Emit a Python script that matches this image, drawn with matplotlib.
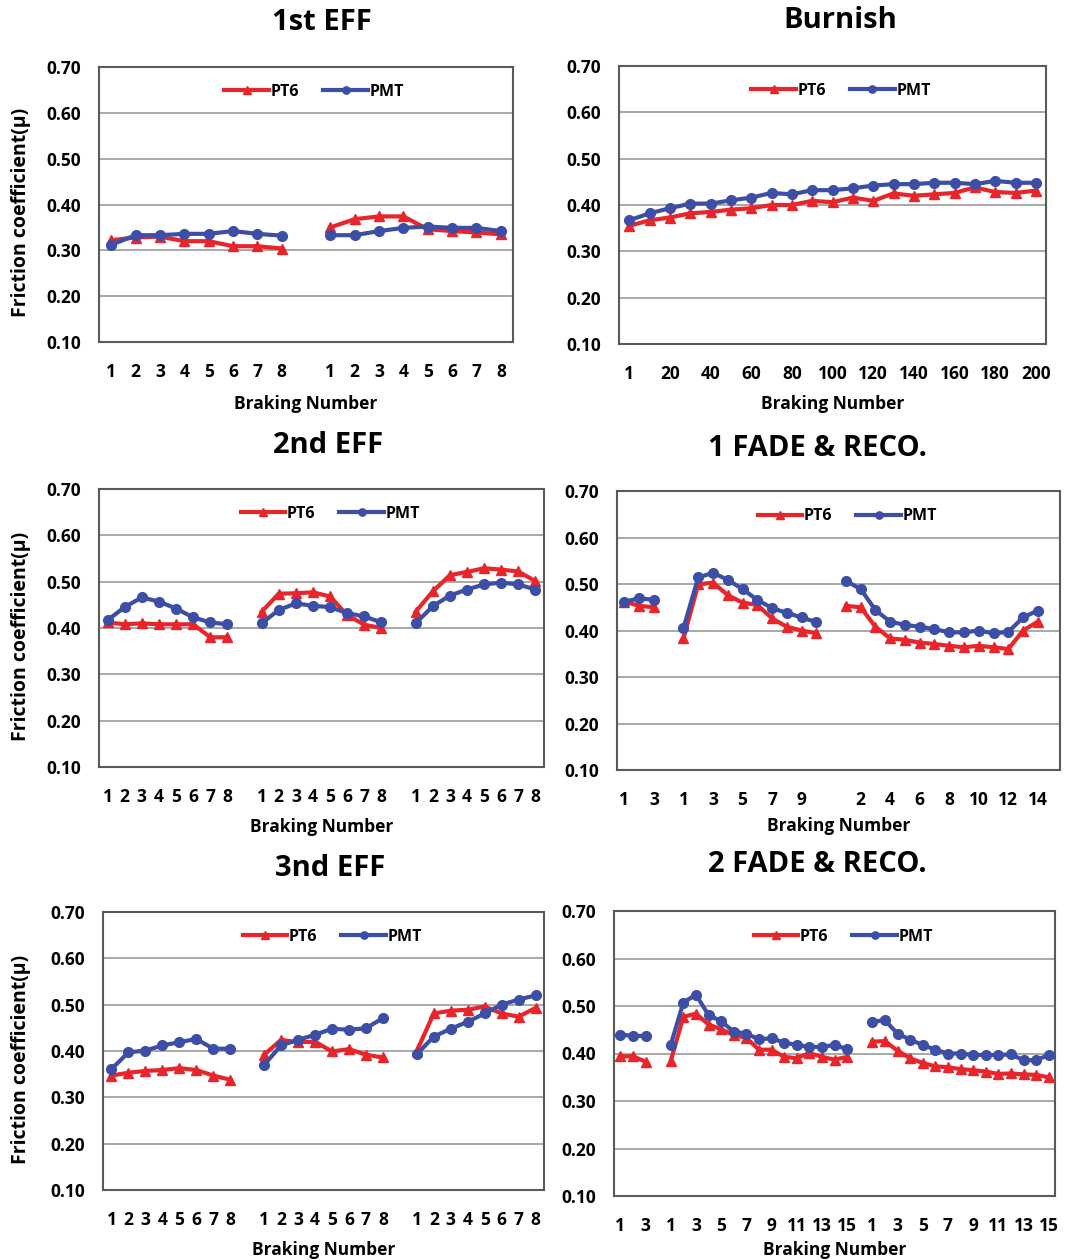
import numpy as np
import matplotlib
matplotlib.use('Agg')
from matplotlib import pyplot as plt

plt.rcParams['font.family'] = ['Open Sans', 'DejaVu Sans']
plt.rcParams['font.weight'] = 'bold'

# ---- data (friction coefficient) ----
eff_cats = [str(i) for i in range(1, 9)]

# 1st EFF: two runs of 8 brakings
eff1_pt6 = [[0.322, 0.328, 0.330, 0.320, 0.320, 0.309, 0.309, 0.304],
            [0.350, 0.368, 0.374, 0.374, 0.346, 0.342, 0.339, 0.335]]
eff1_pmt = [[0.312, 0.333, 0.333, 0.336, 0.336, 0.342, 0.336, 0.332],
            [0.333, 0.333, 0.342, 0.349, 0.352, 0.349, 0.349, 0.342]]

# Burnish: every 10th braking
burnish_cats = ['1'] + [str(i) for i in range(10, 201, 10)]
burnish_pt6 = [0.355, 0.367, 0.373, 0.382, 0.385, 0.390, 0.393, 0.400, 0.400, 0.409,
               0.406, 0.416, 0.409, 0.425, 0.420, 0.423, 0.426, 0.438, 0.428, 0.426, 0.431]
burnish_pmt = [0.367, 0.382, 0.393, 0.403, 0.403, 0.410, 0.416, 0.426, 0.423, 0.432,
               0.432, 0.436, 0.442, 0.445, 0.445, 0.448, 0.448, 0.445, 0.452, 0.448, 0.448]

# 2nd EFF: three runs of 8
eff2_pt6 = [[0.412, 0.408, 0.410, 0.408, 0.408, 0.408, 0.380, 0.380],
            [0.435, 0.474, 0.475, 0.477, 0.468, 0.428, 0.407, 0.400],
            [0.435, 0.479, 0.514, 0.521, 0.529, 0.526, 0.522, 0.501]]
eff2_pmt = [[0.417, 0.445, 0.466, 0.457, 0.442, 0.423, 0.412, 0.408],
            [0.410, 0.439, 0.453, 0.448, 0.445, 0.432, 0.425, 0.412],
            [0.410, 0.447, 0.470, 0.483, 0.494, 0.498, 0.494, 0.483]]

# 1 FADE & RECO.: baseline 3, fade 10, recovery 14
fade1_cats = [['1', '2', '3'],
              [str(i) for i in range(1, 11)],
              [str(i) for i in range(1, 15)]]
fade1_pt6 = [[0.462, 0.453, 0.450],
             [0.383, 0.499, 0.503, 0.476, 0.460, 0.455, 0.426, 0.408, 0.400, 0.394],
             [0.453, 0.450, 0.408, 0.383, 0.380, 0.374, 0.371, 0.367, 0.364, 0.367,
              0.364, 0.360, 0.400, 0.419]]
fade1_pmt = [[0.462, 0.469, 0.466],
             [0.405, 0.514, 0.524, 0.509, 0.489, 0.466, 0.448, 0.438, 0.428, 0.418],
             [0.507, 0.489, 0.444, 0.419, 0.412, 0.408, 0.403, 0.396, 0.396, 0.400,
              0.394, 0.397, 0.428, 0.443]]

# 3nd EFF: three runs of 8
eff3_pt6 = [[0.347, 0.353, 0.357, 0.359, 0.363, 0.359, 0.347, 0.338],
            [0.392, 0.424, 0.419, 0.420, 0.399, 0.404, 0.392, 0.386],
            [0.400, 0.481, 0.487, 0.489, 0.496, 0.481, 0.474, 0.493]]
eff3_pmt = [[0.361, 0.397, 0.401, 0.412, 0.419, 0.426, 0.405, 0.405],
            [0.370, 0.412, 0.424, 0.435, 0.448, 0.446, 0.449, 0.471],
            [0.393, 0.431, 0.448, 0.463, 0.481, 0.500, 0.511, 0.520]]

# 2 FADE & RECO.: baseline 3, fade 15, recovery 15
fade2_cats = [['1', '2', '3'],
              [str(i) for i in range(1, 16)],
              [str(i) for i in range(1, 16)]]
fade2_pt6 = [[0.394, 0.394, 0.383],
             [0.384, 0.477, 0.484, 0.461, 0.451, 0.439, 0.433, 0.408, 0.408, 0.393,
              0.390, 0.401, 0.393, 0.387, 0.393],
             [0.425, 0.426, 0.406, 0.390, 0.380, 0.373, 0.371, 0.367, 0.365, 0.362,
              0.357, 0.358, 0.356, 0.355, 0.350]]
fade2_pmt = [[0.440, 0.437, 0.437],
             [0.418, 0.507, 0.524, 0.481, 0.468, 0.446, 0.442, 0.430, 0.432, 0.423,
              0.418, 0.414, 0.414, 0.418, 0.409],
             [0.467, 0.470, 0.442, 0.429, 0.418, 0.408, 0.400, 0.400, 0.397, 0.397,
              0.397, 0.398, 0.386, 0.386, 0.397]]

RED = '#e8252b'
BLUE = '#3c4ea5'


def draw(ax, pt6_groups, pmt_groups, cat_groups, label_every=1, extra_slots=0):
    """plot groups side by side on a category axis, one empty slot between groups"""
    pos = 0
    labels = []
    for k, (a, b, c) in enumerate(zip(pt6_groups, pmt_groups, cat_groups)):
        xs = np.arange(pos, pos + len(a))
        ax.plot(xs, a, color=RED, lw=3, marker='^', ms=7,
                label='PT6' if k == 0 else None, zorder=3)
        ax.plot(xs, b, color=BLUE, lw=3, marker='o', ms=7,
                label='PMT' if k == 0 else None, zorder=3)
        labels += list(c) + ['']
        pos += len(a) + 1
    labels = labels[:-1]
    n = len(labels) + extra_slots
    shown = [lab if i % label_every == 0 else '' for i, lab in enumerate(labels)]
    ax.set_xticks(np.arange(len(labels)))
    ax.set_xticklabels(shown)
    ax.set_xlim(-0.5, n - 0.5)
    ax.set_ylim(0.10, 0.70)
    ax.set_yticks(np.arange(0.1, 0.71, 0.1))
    ax.set_yticklabels(['%.2f' % v for v in np.arange(0.1, 0.71, 0.1)])
    ax.yaxis.grid(True, color='#a8a8a8', lw=1.4)
    ax.set_axisbelow(True)
    ax.tick_params(length=0, labelsize=12.5, pad=15)
    ax.tick_params(axis='y', pad=13)
    for s in ax.spines.values():
        s.set_color('#5a5a5a')
        s.set_linewidth(1.5)
    ax.legend(loc='center', bbox_to_anchor=(0.52, 0.91), ncol=2, frameon=False,
              fontsize=11.5, handlelength=2.8, columnspacing=1.5, handletextpad=0.1,
              markerscale=0.75)


W, H = 1068, 1260
fig = plt.figure(figsize=(W / 100, H / 100), dpi=100)


def box(x0, y0, x1, y1):
    return fig.add_axes([x0 / W, 1 - y1 / H, (x1 - x0) / W, (y1 - y0) / H])


# title, axes box (pixels), title centre, x-label centre (axes fraction)
panels = [
    ('1st EFF', box(99, 67, 513, 342), (322, 22), -0.225),
    ('Burnish', box(619, 66, 1046, 344), (840, 20), -0.215),
    ('2nd EFF', box(99, 489, 544, 767), (328, 445), -0.215),
    ('1 FADE & RECO.', box(617, 491, 1060, 770), (817, 448), -0.2),
    ('3nd EFF', box(103, 912, 544, 1190), (330, 868), -0.215),
    ('2 FADE & RECO.', box(614, 911, 1055, 1196), (817, 865), -0.19),
]

axs = [p[1] for p in panels]
draw(axs[0], eff1_pt6, eff1_pmt, [eff_cats] * 2)
draw(axs[1], [burnish_pt6], [burnish_pmt], [burnish_cats], label_every=2)
draw(axs[2], eff2_pt6, eff2_pmt, [eff_cats] * 3)
draw(axs[3], fade1_pt6, fade1_pmt, fade1_cats, label_every=2, extra_slots=1)
draw(axs[4], eff3_pt6, eff3_pmt, [eff_cats] * 3)
draw(axs[5], fade2_pt6, fade2_pmt, fade2_cats, label_every=2)

for title, ax, (tx, ty), xl in panels:
    fig.text(tx / W, 1 - ty / H, title, ha='center', va='center',
             fontsize=21, fontweight='bold')
    ax.set_xlabel('Braking Number', fontsize=12.5, fontweight='bold')
    ax.xaxis.set_label_coords(0.5, xl)
    ax.xaxis.label.set_verticalalignment('center')

for ax, left, width in ((axs[0], 99, 414), (axs[2], 99, 445), (axs[4], 103, 441)):
    ax.set_ylabel('Friction coefficient(μ)', fontsize=14, fontweight='bold')
    ax.yaxis.label.set_verticalalignment('center')
    ax.yaxis.set_label_coords(-(left - 21) / width, 0.47)

fig.savefig('out.png', dpi=100)
